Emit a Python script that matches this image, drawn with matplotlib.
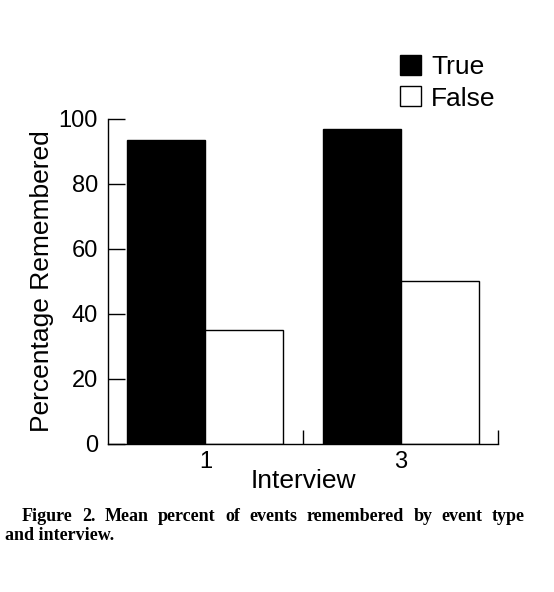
import matplotlib.pyplot as plt
from matplotlib.patches import Patch

interviews = ["1", "3"]
true_pct = [93.5, 96.8]
false_pct = [35.1, 50.2]
series_names = ["True", "False"]
caption_1 = "Figure 2. Mean percent of events remembered by event type"
caption_2 = "and interview."

plt.rcParams['font.family'] = ['Liberation Sans', 'DejaVu Sans']

fig = plt.figure(figsize=(5.54, 5.92), dpi=100)
ax = fig.add_axes([0.1944, 0.25, 0.705, 0.549])

pos = [0.5, 1.5]
w = 0.4
ax.bar([p - w / 2 for p in pos], true_pct, w, color='black', edgecolor='black', linewidth=1.0)
ax.bar([p + w / 2 for p in pos], false_pct, w, color='white', edgecolor='black', linewidth=1.0)

ax.set_xlim(0, 2)
ax.set_ylim(0, 100)
ax.spines['top'].set_visible(False)
ax.spines['right'].set_visible(False)
for s in ['left', 'bottom']:
    ax.spines[s].set_linewidth(1.0)

ax.set_yticks([0, 20, 40, 60, 80, 100])
ax.tick_params(axis='y', direction='in', length=12, width=1.0, labelsize=17, pad=7)
ax.set_xticks([1, 2])
ax.set_xticklabels([])
ax.tick_params(axis='x', direction='in', length=10, width=1.0)
ax.set_xticks(pos, minor=True)
ax.set_xticklabels(interviews, minor=True)
ax.tick_params(axis='x', which='minor', length=0, labelsize=17, pad=5)

ax.set_xlabel("Interview", fontsize=19, labelpad=-3)
ax.set_ylabel("Percentage Remembered", fontsize=19, labelpad=3)

handles = [Patch(facecolor='black', edgecolor='black'),
           Patch(facecolor='white', edgecolor='black')]
fig.legend(handles, series_names, loc='upper left', bbox_to_anchor=(400 / 554, 1 - 55 / 592),
           frameon=False, fontsize=19, handlelength=0.78, handleheight=0.78,
           handletextpad=0.4, borderpad=0, borderaxespad=0, labelspacing=0.28)

# caption: first line justified between x=22 and x=525 px like the printed figure
cap_kw = dict(family='Liberation Serif', weight='bold', fontsize=13, va='baseline', ha='left')
renderer = fig.canvas.get_renderer()
words = caption_1.split()
texts = [fig.text(0, 1 - 521 / 592, wd, **cap_kw) for wd in words]
widths = [t.get_window_extent(renderer).width for t in texts]
gap = (525 - 22 - sum(widths)) / (len(words) - 1)
x = 22
for t, wd_px in zip(texts, widths):
    t.set_x(x / 554)
    x += wd_px + gap
fig.text(5 / 554, 1 - 540 / 592, caption_2, **cap_kw)

fig.savefig("out.png", dpi=100)
